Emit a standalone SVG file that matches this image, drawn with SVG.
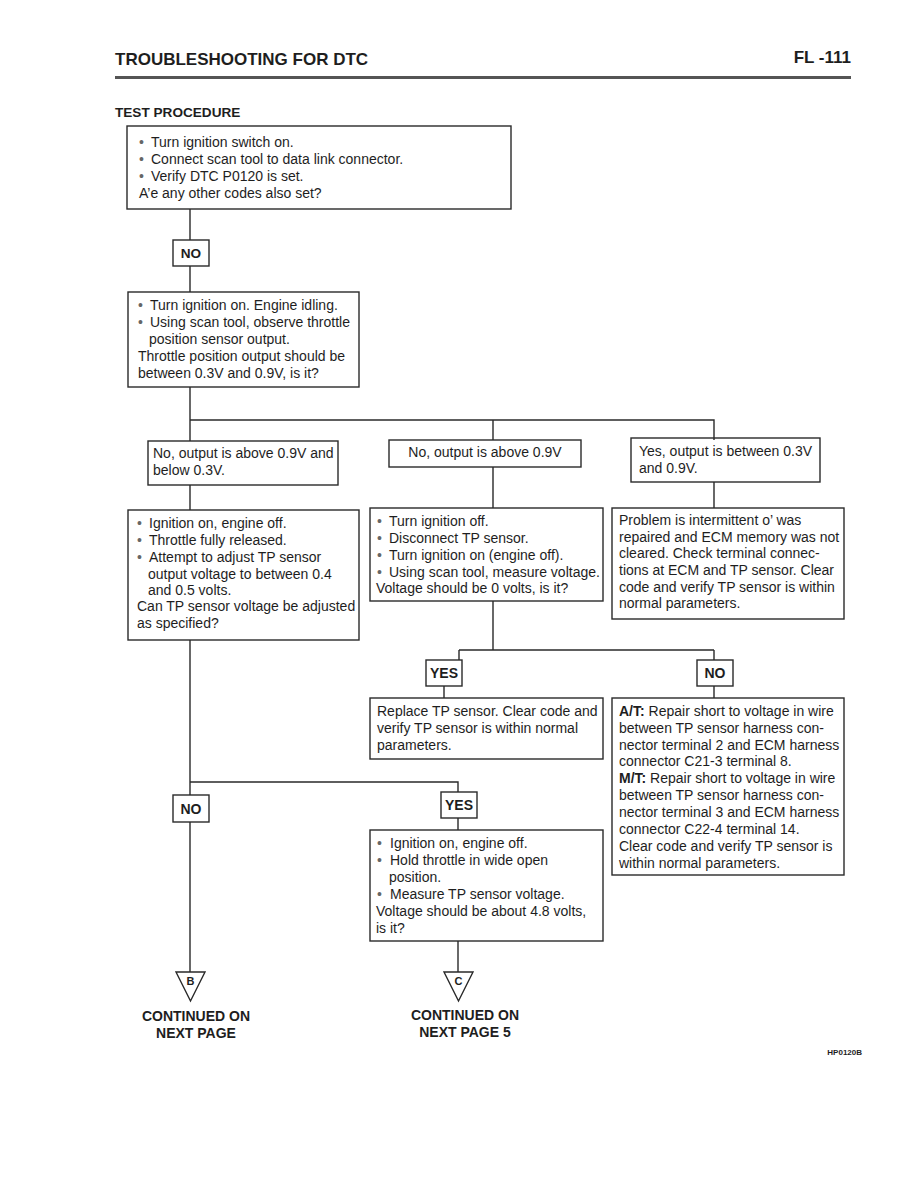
<svg xmlns="http://www.w3.org/2000/svg" width="918" height="1188" viewBox="0 0 918 1188">
<style>
.bg{fill:#ffffff}
.box{fill:none;stroke:#2a2a2a;stroke-width:1.4}
.lbl{fill:#ffffff;stroke:#2a2a2a;stroke-width:1.4}
.c{fill:none;stroke:#2a2a2a;stroke-width:1.4}
text{font-family:"Liberation Sans",Arial,sans-serif;fill:#1e1e1e}
.t{font-size:14px}
.b{font-weight:bold}
.bul{fill:#666}
.h{font-size:17px;font-weight:bold}
.s{font-size:13.6px;font-weight:bold}
.k{font-size:14px;font-weight:bold}
</style>
<rect class="bg" x="0" y="0" width="918" height="1188"/>
<g id="header">
<text class="h" x="115" y="65">TROUBLESHOOTING FOR DTC</text>
<text class="h" x="851" y="63" text-anchor="end" font-size="18">FL -111</text>
<rect x="115" y="76" width="736" height="3" fill="#555"/>
<text class="s" x="115" y="117">TEST PROCEDURE</text>
</g>
<g id="connectors">
<path class="c" d="M190 209V240M190 266V292"/>
<path class="c" d="M190 387V420H714V440M190 420V441M493 420V440"/>
<path class="c" d="M190 485V510M493 467V508M714 482V508"/>
<path class="c" d="M493 601V650M459 650H714M459 650V660M714 650V660M444 686V698M714 686V698"/>
<path class="c" d="M190 640V795M190 822V972M190 782H458V792M458 818V830"/>
<path class="c" d="M458 941V972"/>
</g>
<g id="n1">
<rect class="box" x="127" y="126" width="384" height="83"/>
<text class="t"><tspan class="bul" x="139" y="147">•</tspan><tspan x="151" y="147">Turn ignition switch on.</tspan><tspan class="bul" x="139" y="164">•</tspan><tspan x="151" y="164">Connect scan tool to data link connector.</tspan><tspan class="bul" x="139" y="181">•</tspan><tspan x="151" y="181">Verify DTC P0120 is set.</tspan><tspan x="139" y="198">A’e any other codes also set?</tspan></text>
</g>
<g id="no1">
<rect class="lbl" x="173" y="240" width="36" height="26"/>
<text class="s" x="191" y="258" text-anchor="middle">NO</text>
</g>
<g id="n2">
<rect class="box" x="128" y="292" width="231" height="95"/>
<text class="t"><tspan class="bul" x="138" y="310">•</tspan><tspan x="150" y="310">Turn ignition on. Engine idling.</tspan><tspan class="bul" x="138" y="327">•</tspan><tspan x="150" y="327">Using scan tool, observe throttle</tspan><tspan x="149" y="344">position sensor output.</tspan><tspan x="138" y="361">Throttle position output should be</tspan><tspan x="138" y="378">between 0.3V and 0.9V, is it?</tspan></text>
</g>
<g id="n3a">
<rect class="box" x="148" y="441" width="190" height="44"/>
<text class="t"><tspan x="153" y="458">No, output is above 0.9V and</tspan><tspan x="153" y="475">below 0.3V.</tspan></text>
</g>
<g id="n3b">
<rect class="box" x="389" y="440" width="192" height="27"/>
<text class="t" x="485" y="457" text-anchor="middle">No, output is above 0.9V</text>
</g>
<g id="n3c">
<rect class="box" x="631" y="438" width="189" height="44"/>
<text class="t"><tspan x="639" y="456">Yes, output is between 0.3V</tspan><tspan x="639" y="473">and 0.9V.</tspan></text>
</g>
<g id="n4a">
<rect class="box" x="128" y="510" width="231" height="130"/>
<text class="t"><tspan class="bul" x="137" y="528">•</tspan><tspan x="149" y="528">Ignition on, engine off.</tspan><tspan class="bul" x="137" y="545">•</tspan><tspan x="149" y="545">Throttle fully released.</tspan><tspan class="bul" x="137" y="562">•</tspan><tspan x="149" y="562">Attempt to adjust TP sensor</tspan><tspan x="148" y="579">output voltage to between 0.4</tspan><tspan x="148" y="595">and 0.5 volts.</tspan><tspan x="137" y="611">Can TP sensor voltage be adjusted</tspan><tspan x="137" y="628">as specified?</tspan></text>
</g>
<g id="n4b">
<rect class="box" x="370" y="508" width="233" height="93"/>
<text class="t"><tspan class="bul" x="377" y="526">•</tspan><tspan x="389" y="526">Turn ignition off.</tspan><tspan class="bul" x="377" y="543">•</tspan><tspan x="389" y="543">Disconnect TP sensor.</tspan><tspan class="bul" x="377" y="560">•</tspan><tspan x="389" y="560">Turn ignition on (engine off).</tspan><tspan class="bul" x="377" y="577">•</tspan><tspan x="389" y="577">Using scan tool, measure voltage.</tspan><tspan x="376" y="593">Voltage should be 0 volts, is it?</tspan></text>
</g>
<g id="n4c">
<rect class="box" x="612" y="508" width="232" height="111"/>
<text class="t"><tspan x="619" y="525">Problem is intermittent o’ was</tspan><tspan x="619" y="542">repaired and ECM memory was not</tspan><tspan x="619" y="558">cleared. Check terminal connec-</tspan><tspan x="619" y="575">tions at ECM and TP sensor. Clear</tspan><tspan x="619" y="592">code and verify TP sensor is within</tspan><tspan x="619" y="608">normal parameters.</tspan></text>
</g>
<g id="yes1">
<rect class="lbl" x="426" y="660" width="36" height="26"/>
<text class="k" x="444" y="678" text-anchor="middle">YES</text>
</g>
<g id="no2">
<rect class="lbl" x="697" y="660" width="36" height="26"/>
<text class="k" x="715" y="678" text-anchor="middle">NO</text>
</g>
<g id="n5a">
<rect class="box" x="370" y="698" width="233" height="61"/>
<text class="t"><tspan x="377" y="716">Replace TP sensor. Clear code and</tspan><tspan x="377" y="733">verify TP sensor is within normal</tspan><tspan x="377" y="750">parameters.</tspan></text>
</g>
<g id="n5b">
<rect class="box" x="612" y="698" width="232" height="177"/>
<text class="t"><tspan x="619" y="716" class="b">A/T:</tspan><tspan> Repair short to voltage in wire</tspan><tspan x="619" y="733">between TP sensor harness con-</tspan><tspan x="619" y="750">nector terminal 2 and ECM harness</tspan><tspan x="619" y="766">connector C21-3 terminal 8.</tspan><tspan x="619" y="783" class="b">M/T:</tspan><tspan> Repair short to voltage in wire</tspan><tspan x="619" y="800">between TP sensor harness con-</tspan><tspan x="619" y="817">nector terminal 3 and ECM harness</tspan><tspan x="619" y="834">connector C22-4 terminal 14.</tspan><tspan x="619" y="851">Clear code and verify TP sensor is</tspan><tspan x="619" y="868">within normal parameters.</tspan></text>
</g>
<g id="no3">
<rect class="lbl" x="173" y="795" width="36" height="27"/>
<text class="k" x="191" y="814" text-anchor="middle">NO</text>
</g>
<g id="yes2">
<rect class="lbl" x="441" y="792" width="36" height="26"/>
<text class="k" x="459" y="810" text-anchor="middle">YES</text>
</g>
<g id="n6">
<rect class="box" x="370" y="830" width="233" height="111"/>
<text class="t"><tspan class="bul" x="377" y="848">•</tspan><tspan x="390" y="848">Ignition on, engine off.</tspan><tspan class="bul" x="377" y="865">•</tspan><tspan x="390" y="865">Hold throttle in wide open</tspan><tspan x="389" y="882">position.</tspan><tspan class="bul" x="377" y="899">•</tspan><tspan x="390" y="899">Measure TP sensor voltage.</tspan><tspan x="376" y="916">Voltage should be about 4.8 volts,</tspan><tspan x="376" y="933">is it?</tspan></text>
</g>
<g id="offB">
<path class="lbl" d="M176 972H205L190.5 1001Z"/>
<text x="190.5" y="985" text-anchor="middle" font-size="11" font-weight="bold">B</text>
<text class="k" x="196" y="1021" text-anchor="middle">CONTINUED ON</text>
<text class="k" x="196" y="1038" text-anchor="middle">NEXT PAGE</text>
</g>
<g id="offC">
<path class="lbl" d="M444 972H473L458.5 1001Z"/>
<text x="458.5" y="985" text-anchor="middle" font-size="11" font-weight="bold">C</text>
<text class="k" x="465" y="1020" text-anchor="middle">CONTINUED ON</text>
<text class="k" x="465" y="1037" text-anchor="middle">NEXT PAGE 5</text>
</g>
<text x="862" y="1055" text-anchor="end" font-size="8" font-weight="bold">HP0120B</text>
</svg>
